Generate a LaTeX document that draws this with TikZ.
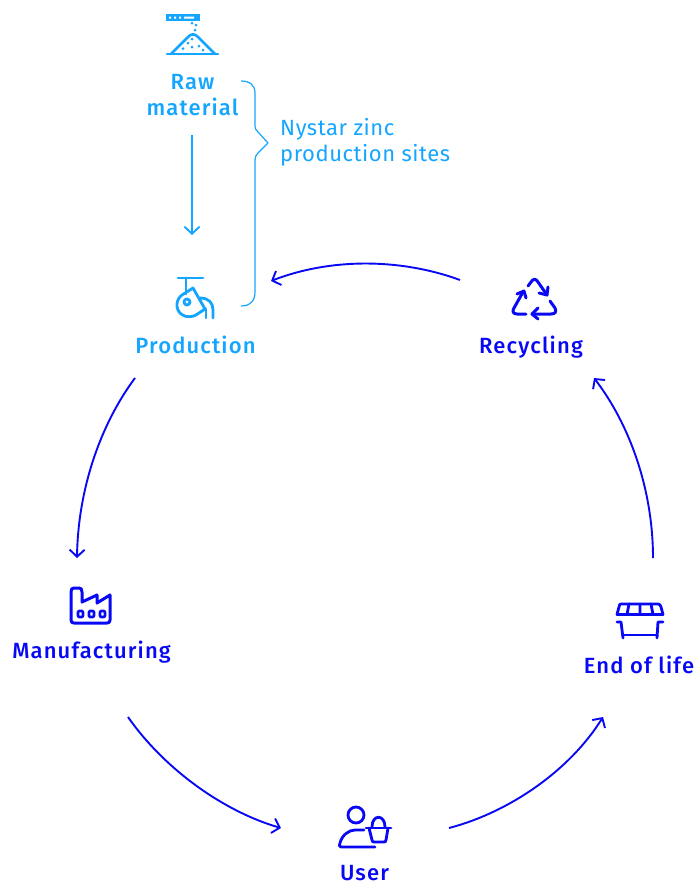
\documentclass[tikz,border=0pt]{standalone}
\usepackage{fontspec}
\setmainfont{Fira Sans}
\newfontfamily\medfont[LetterSpace=5.2]{Fira Sans Medium}
\newfontfamily\regfont[LetterSpace=2.5]{Fira Sans}
\usetikzlibrary{arrows.meta}
\definecolor{lightb}{HTML}{14A5FF}
\definecolor{darkb}{HTML}{0808F5}
\tikzset{
  lbl/.style={font=\medfont\fontsize{22}{26}\selectfont, inner sep=0pt, align=center, anchor=base},
  lightlbl/.style={lbl, text=lightb},
  darklbl/.style={lbl, text=darkb},
  sitelbl/.style={font=\regfont\fontsize{22}{26}\selectfont, inner sep=0pt, align=left, anchor=base west, text=lightb},
  flow/.style={line width=1.9pt, -{Straight Barb[length=7pt,width=15pt,line width=1.9pt]}},
  lightflow/.style={flow, lightb},
  darkflow/.style={flow, darkb},
  icon/.style={line width=3pt, line cap=round, line join=round},
}
\begin{document}
\begin{tikzpicture}[x=1pt,y=-1pt]
\useasboundingbox (0,0) rectangle (700,884);
% labels
\node[lightlbl] (raw) at (192.5,89) {Raw};
\node[lightlbl] (material) at (192.5,115) {material};
\node[lightlbl] (production) at (195.5,353) {Production};
\node[sitelbl] (sites1) at (280,135) {Nystar zinc};
\node[sitelbl] (sites2) at (280,161) {production sites};
\node[darklbl] (recycling) at (531,353) {Recycling};
\node[darklbl] (manufacturing) at (91.5,658) {Manufacturing};
\node[darklbl] (endlife) at (639,673) {End of life};
\node[darklbl] (user) at (364.5,880) {User};
% connector ends
\coordinate (a1) at (192,135); \coordinate (a2) at (192,235);
\coordinate (b1) at (135,378); \coordinate (b2) at (77,558);
\coordinate (c1) at (128,717); \coordinate (c2) at (281,828);
\coordinate (d1) at (449,828); \coordinate (d2) at (603,717);
\coordinate (e1) at (653,558); \coordinate (e2) at (594,378);
\coordinate (f1) at (460,280); \coordinate (f2) at (271,281);
\draw[lightflow] (a1) -- (a2);
\draw[darkflow] (b1) .. controls (100,425) and (78,490) .. (b2);
\draw[darkflow] (c1) .. controls (165,770) and (225,812) .. (c2);
\draw[darkflow] (d1) .. controls (510,812) and (570,770) .. (d2);
\draw[darkflow] (e1) .. controls (653,490) and (630,425) .. (e2);
\draw[darkflow] (f1) .. controls (400,258) and (330,258) .. (f2);
% brace
\draw[lightb, line width=1.2pt, line join=round] (241,81) .. controls (250,81) and (255,85) .. (255,93) -- (255,125)
  .. controls (255,129) and (256,130) .. (258,132) -- (268,143) -- (258,153)
  .. controls (256,155) and (255,157) .. (255,160) -- (255,292)
  .. controls (255,301) and (250,306) .. (241,306);
% raw material icon
\begin{scope}[lightb]
\fill (166,14) rectangle (200,21);
\fill[white] (169,16.5) rectangle (171,18.5) (174,16.5) rectangle (176,18.5) (179,16.5) rectangle (181,18.5) (184,16.5) rectangle (194,18.5);
\draw[line width=2.6pt, line cap=round] (167,54) -- (218,54);
\draw[line width=2.6pt, line join=round] (171,54) -- (188,37) .. controls (191,33.5) and (195,33.5) .. (198,37) -- (215,54);
\foreach \p in {(192,23),(196,25),(195,30),(192,39),(188,43),(192,47),(199,46),(203,50),(183,48.5)}
  \fill \p circle (1.5);
\end{scope}
% production icon
\begin{scope}[lightb, icon, line width=2.8pt]
\draw (178,278) -- (203,278);
\draw (186,278) -- (186,294);
\draw (193,288) -- (182,295) .. controls (176,299) and (175,309) .. (181,314) .. controls (186,318) and (192,317) .. (196,315) -- (205,309) -- cycle;
\draw (187,302) circle (3);
\draw (200,298) .. controls (209,298) and (213,303) .. (213,310) -- (213,318);
\draw (206,309) -- (206,318);
\end{scope}
% recycling icon
\begin{scope}[darkb, icon]
\draw (528,286) -- (531,282) .. controls (533,278.5) and (536,278.5) .. (538,282) -- (547,295);
\draw (539,293) -- (547,295) -- (548,287);
\draw (550,301) -- (555,308) .. controls (557,312) and (555,314) .. (551,314) -- (532,314);
\draw (538,308) -- (532,314) -- (538,319);
\draw (526,314) -- (517,314) .. controls (513,314) and (512,311) .. (514,308) -- (523,292);
\draw (517,294) -- (524,291) -- (526,298);
\end{scope}
% manufacturing icon
\begin{scope}[darkb, icon]
\draw (71,592) .. controls (71,589) and (72,588) .. (74,588) -- (79,588) .. controls (81,588) and (82,589) .. (82,592) -- (82,602) -- (97,595) -- (97,603) -- (110,595) -- (110,620) .. controls (110,622) and (109,623) .. (107,623) -- (74,623) .. controls (72,623) and (71,622) .. (71,620) -- cycle;
\draw[line width=2.6pt, rounded corners=1pt] (78,611) rectangle (83,617) (89,611) rectangle (94,617) (100,611) rectangle (105,617);
\end{scope}
% end of life icon
\begin{scope}[darkb, icon, line width=2.8pt]
\draw (621,604) -- (658,604) .. controls (660,604) and (660,605) .. (661,607) -- (663,614.5) -- (617,614.5) -- (619,607) .. controls (619,605) and (620,604) .. (621,604) -- cycle;
\draw (629,604) -- (627,614.5) (640,604) -- (640,614.5) (651,604) -- (653,614.5);
\draw (617,622) -- (621,622) -- (623,638);
\draw (663,622) -- (658,622) -- (657,638);
\draw (623,635) -- (657,635);
\end{scope}
% user icon
\begin{scope}[darkb, icon, line width=2.8pt]
\draw (356,815) circle (8);
\draw (375,847) -- (341,847) .. controls (339,847) and (339,845) .. (340,843) .. controls (342,835) and (349,830) .. (355,830) -- (364,830);
\draw (366,828) -- (391,828);
\draw (369,828) -- (372,840) .. controls (372,842) and (373,842) .. (375,842) -- (383,842) .. controls (385,842) and (386,842) .. (386,840) -- (388,828);
\draw (372,827) .. controls (372,814) and (385,814) .. (385,827);
\end{scope}
\end{tikzpicture}
\end{document}
